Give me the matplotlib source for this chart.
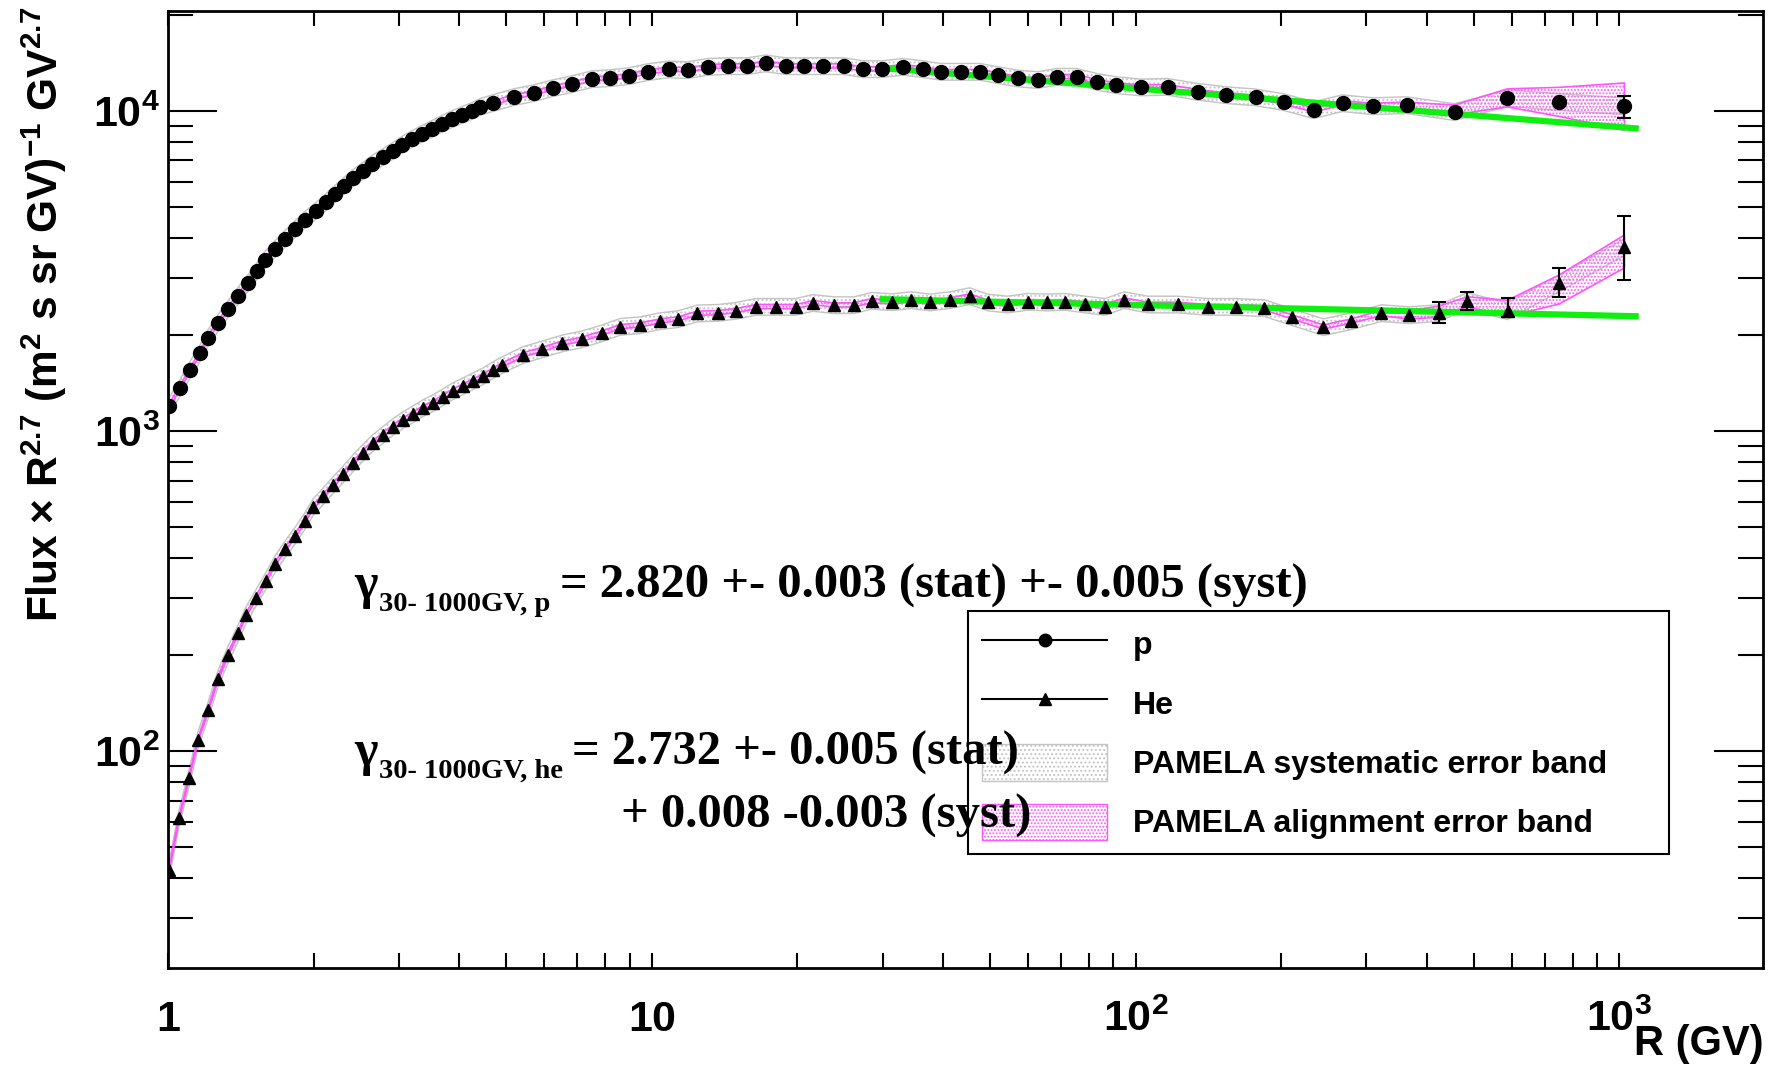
import matplotlib
matplotlib.use("Agg")
import matplotlib.pyplot as plt
import numpy as np
from matplotlib.ticker import FuncFormatter, LogLocator, NullFormatter
from matplotlib.lines import Line2D
from matplotlib.patches import Patch

# Fonts: ROOT-like Helvetica bold for axes, Times bold for the annotations
plt.rcParams['font.family'] = ['Liberation Sans', 'DejaVu Sans']
plt.rcParams['font.weight'] = 'bold'
plt.rcParams['mathtext.fontset'] = 'custom'
plt.rcParams['mathtext.rm'] = 'Liberation Sans:bold'
plt.rcParams['mathtext.sf'] = 'Liberation Sans:bold'
plt.rcParams['hatch.linewidth'] = 0.9

# Proton flux x R^2.7
p_R = [1.005, 1.059, 1.110, 1.164, 1.210, 1.268, 1.330, 1.395, 1.463, 1.527,
       1.586, 1.664, 1.745, 1.830, 1.919, 2.022, 2.121, 2.214, 2.311, 2.410,
       2.528, 2.640, 2.780, 2.917, 3.043, 3.192, 3.349, 3.513, 3.684, 3.865,
       4.054, 4.253, 4.417, 4.695, 5.187, 5.713, 6.251, 6.843, 7.529, 8.198,
       8.971, 9.818, 10.84, 11.87, 13.05, 14.36, 15.72, 17.20, 18.92, 20.61,
       22.56, 24.93, 27.29, 29.87, 33.01, 36.31, 39.55, 43.49, 47.61, 51.86,
       57.05, 62.73, 68.68, 75.53, 83.06, 90.93, 102.4, 116.4, 134.3, 153.5,
       177.0, 202.2, 233.2, 267.7, 308.8, 363.0, 456.1, 586.9, 751.6, 1024]
p_flux = [1197, 1366, 1551, 1749, 1957, 2175, 2406, 2648, 2901, 3162,
          3430, 3705, 3990, 4277, 4575, 4880, 5195, 5515, 5842, 6174,
          6508, 6844, 7182, 7515, 7847, 8175, 8493, 8803, 9128, 9441,
          9737, 10021, 10314, 10593, 11060, 11384, 11800, 12144, 12589, 12680,
          12866, 13243, 13500, 13430, 13750, 13820, 13820, 14100, 13820, 13820,
          13820, 13820, 13530, 13530, 13750, 13530, 13270, 13270, 13270, 12960,
          12650, 12500, 12800, 12800, 12350, 12060, 11860, 11910, 11490, 11220,
          11040, 10670, 10070, 10590, 10360, 10440, 9930, 10980, 10670, 10360]

# Helium flux x R^2.7
he_R = [1.005, 1.054, 1.105, 1.153, 1.210, 1.268, 1.330, 1.395, 1.449, 1.520,
        1.594, 1.664, 1.745, 1.830, 1.919, 1.994, 2.092, 2.194, 2.300, 2.410,
        2.528, 2.651, 2.780, 2.917, 3.059, 3.208, 3.365, 3.529, 3.701, 3.882,
        4.072, 4.271, 4.479, 4.695, 4.902, 5.411, 5.929, 6.522, 7.158, 7.876,
        8.594, 9.458, 10.40, 11.32, 12.41, 13.70, 14.92, 16.41, 18.04, 19.85,
        21.53, 23.78, 26.15, 28.46, 31.41, 34.36, 37.56, 41.29, 45.40, 49.45,
        54.37, 59.78, 65.73, 71.51, 78.63, 86.45, 94.63, 105.9, 122.2, 140.8,
        160.9, 184.6, 210.8, 244.5, 279.3, 321.9, 367.2, 423.1, 484.3, 587.0,
        751.6, 1024]
he_flux = [42.5, 61.6, 82.2, 108, 134, 168, 200, 233, 266, 301,
           341, 384, 427, 471, 524, 578, 626, 678, 732, 793,
           856, 919, 972, 1031, 1082, 1130, 1180, 1223, 1277, 1334,
           1382, 1433, 1485, 1551, 1608, 1728, 1800, 1880, 1935, 2020,
           2118, 2144, 2207, 2239, 2333, 2343, 2377, 2446, 2446, 2446,
           2517, 2476, 2476, 2554, 2530, 2567, 2525, 2567, 2642, 2525,
           2488, 2536, 2525, 2536, 2488, 2446, 2567, 2488, 2488, 2446,
           2446, 2423, 2271, 2113, 2207, 2338, 2305, 2338, 2549, 2371,
           2901, 3758]

# statistical error bars visible at the highest rigidities
p_err_lo = [850]
p_err_hi = [780]
he_err_lo = [162, 165, 100, 285, 791]
he_err_hi = [192, 178, 239, 328, 949]

# error bands (relative): systematic, and alignment (widening in the tail)
sys_frac = 0.06
align_frac = 0.015
p_align_tail_lo = [0.02, 0.02, 0.02, 0.063, 0.10, 0.16]
p_align_tail_hi = [0.02, 0.02, 0.05, 0.067, 0.11, 0.18]
he_align_tail_lo = [0.02, 0.03, 0.03, 0.04, 0.04, 0.14, 0.14]
he_align_tail_hi = [0.02, 0.03, 0.05, 0.03, 0.08, 0.06, 0.09]

# power-law fits 30-1000 GV (end points)
fit_R = [30, 1080]
p_fit_flux = [13600, 8820]
he_fit_flux = [2580, 2283]

fig = plt.figure(figsize=(17.81, 10.66), dpi=100)
ax = fig.add_axes([0.0943, 0.0919, 0.8956, 0.8977])
ax.set_xscale('log')
ax.set_yscale('log')


def draw_bands(R, flux, tail_lo, tail_hi):
    R = np.array(R)
    flux = np.array(flux)
    n = len(R) - len(tail_lo)
    lo = np.concatenate([np.full(n, align_frac), tail_lo])
    hi = np.concatenate([np.full(n, align_frac), tail_hi])
    ax.fill_between(R, flux * (1 - sys_frac), flux * (1 + sys_frac),
                    facecolor='none', edgecolor='#c4c4c4', hatch='....',
                    lw=1.0, zorder=1)
    ax.fill_between(R, flux * (1 - lo), flux * (1 + hi),
                    facecolor='none', edgecolor='#ff55ff', hatch='.....',
                    lw=1.2, zorder=2)


draw_bands(p_R, p_flux, p_align_tail_lo, p_align_tail_hi)
draw_bands(he_R, he_flux, he_align_tail_lo, he_align_tail_hi)

ax.plot(fit_R, p_fit_flux, color='#11ee11', lw=4.5, zorder=3)
ax.plot(fit_R, he_fit_flux, color='#11ee11', lw=4.5, zorder=3)

ax.plot(p_R, p_flux, 'o', color='black', markersize=10, zorder=4)
ax.plot(he_R, he_flux, '^', color='black', markersize=9, zorder=4)
ax.errorbar(p_R[-1:], p_flux[-1:], yerr=[p_err_lo, p_err_hi], fmt='none',
            ecolor='black', elinewidth=1.5, capsize=5, capthick=1.5, zorder=4)
ax.errorbar(he_R[-5:], he_flux[-5:], yerr=[he_err_lo, he_err_hi], fmt='none',
            ecolor='black', elinewidth=1.5, capsize=5, capthick=1.5, zorder=4)

ax.set_xlim(1, 1980)
ax.set_ylim(21, 20500)


def log_label(v, pos):
    e = int(round(np.log10(v)))
    if e == 0:
        return '1'
    if e == 1:
        return '10'
    return r'10$^{\mathsf{%d}}$' % e


ax.xaxis.set_major_locator(LogLocator(base=10))
ax.yaxis.set_major_locator(LogLocator(base=10))
ax.xaxis.set_minor_locator(LogLocator(base=10, subs=np.arange(2, 10)))
ax.yaxis.set_minor_locator(LogLocator(base=10, subs=np.arange(2, 10)))
ax.xaxis.set_major_formatter(FuncFormatter(log_label))
ax.yaxis.set_major_formatter(FuncFormatter(log_label))
ax.xaxis.set_minor_formatter(NullFormatter())
ax.yaxis.set_minor_formatter(NullFormatter())

ax.tick_params(axis='both', which='both', direction='in', top=True, right=True,
               width=1.5, labelsize=31)
ax.tick_params(axis='x', which='both', length=11, pad=23)
ax.tick_params(axis='y', which='major', length=35, pad=6)
ax.tick_params(axis='y', which='minor', length=18)
for spine in ax.spines.values():
    spine.set_linewidth(2)

fig.text(0.99, 0.002, 'R (GV)', ha='right', va='bottom', fontsize=30,
         fontweight='bold')
fig.text(0.0247, 0.705,
         r'Flux $\times$ R$^{\mathsf{2.7}}$ (m$^{\mathsf{2}}$ s sr GV)$^{\mathsf{-1}}$ GV$^{\mathsf{2.7}}$',
         rotation=90, ha='center', va='center', fontsize=30.5, fontweight='bold')

# fitted spectral indices: big gamma, small lowered subscript, then the value
serif = ['Liberation Serif', 'DejaVu Serif']


def gamma_text(x0, y0, sub, rest):
    g = ax.text(x0, y0, 'γ', transform=ax.transAxes, family=serif,
                fontweight='bold', fontsize=36, va='baseline', ha='left', zorder=10)
    s = ax.annotate(sub, xy=(1, y0), xycoords=(g, 'axes fraction'),
                    xytext=(1, -9), textcoords='offset points', family=serif,
                    fontweight='bold', fontsize=20.5, va='baseline', ha='left',
                    zorder=10)
    ax.annotate(rest, xy=(1, y0), xycoords=(s, 'axes fraction'),
                xytext=(7, 0), textcoords='offset points', family=serif,
                fontweight='bold', fontsize=35, va='baseline', ha='left',
                zorder=10)


gamma_text(0.1166, 0.3866, '30- 1000GV, p', '= 2.820 +- 0.003 (stat) +- 0.005 (syst)')
gamma_text(0.1166, 0.2121, '30- 1000GV, he', '= 2.732 +- 0.005 (stat)')
ax.text(0.284, 0.1463, '+ 0.008 -0.003 (syst)',
        transform=ax.transAxes, family=serif, fontweight='bold', fontsize=35,
        va='baseline', ha='left', zorder=10)

handles = [
    Line2D([], [], color='black', lw=1.5, marker='o', markersize=9),
    Line2D([], [], color='black', lw=1.5, marker='^', markersize=8),
    Patch(facecolor='white', edgecolor='#c4c4c4', hatch='....'),
    Patch(facecolor='white', edgecolor='#ff55ff', hatch='.....'),
]
labels = ['p', 'He', 'PAMELA systematic error band', 'PAMELA alignment error band']
leg = ax.legend(handles, labels, loc='upper left',
                bbox_to_anchor=(0.5016, 0.123, 0.4394, 0.25), mode='expand',
                borderaxespad=0, prop={'family': 'Liberation Sans', 'weight': 'bold', 'size': 23},
                handlelength=3.9, handleheight=1.375, labelspacing=0.72,
                handletextpad=0.8, borderpad=0.45, fancybox=False,
                framealpha=1, edgecolor='black')
leg.get_frame().set_linewidth(1.5)
leg.set_zorder(5)

fig.savefig('out.png', dpi=100)
